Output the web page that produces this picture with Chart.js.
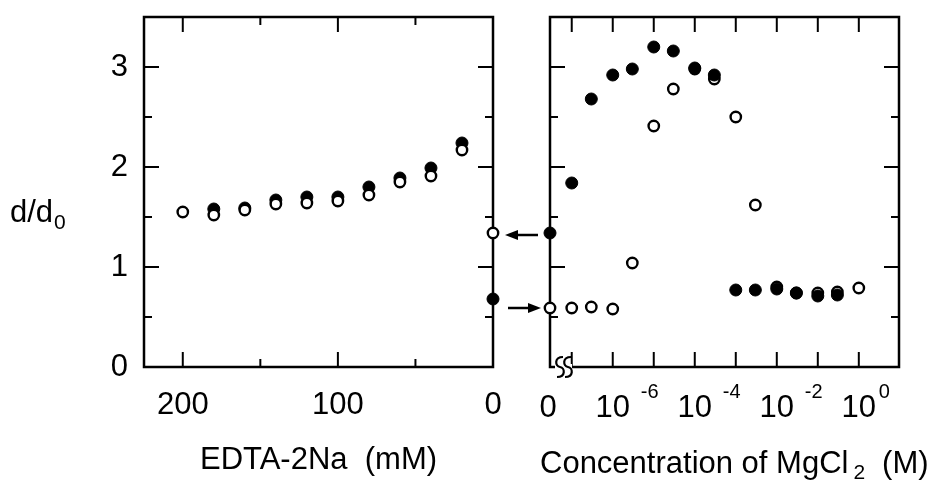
<!DOCTYPE html>
<html>
<head>
<meta charset="utf-8">
<script src="https://cdn.jsdelivr.net/npm/chart.js@4/dist/chart.umd.min.js"></script>
<style>
html, body { margin: 0; background: #fff; }
#wrap { position: relative; width: 933px; height: 492px; }
#wrap canvas { position: absolute; left: 0; top: 0; }
</style>
</head>
<body>
<div id="wrap">
  <canvas id="left" width="933" height="492"></canvas>
  <canvas id="right" width="933" height="492"></canvas>
</div>
<script>
const FONT = '"Liberation Sans", Arial, Helvetica, sans-serif';

// left panel: EDTA-2Na (mM)
const edtaOpenConc = [200, 180, 160, 140, 120, 100, 80, 60, 40, 20, 0];
const edtaOpen = [1.55, 1.52, 1.57, 1.63, 1.64, 1.66, 1.72, 1.85, 1.91, 2.17, 1.34];
const edtaFilledConc = [180, 160, 140, 120, 100, 80, 60, 40, 20, 0];
const edtaFilled = [1.58, 1.59, 1.67, 1.70, 1.70, 1.80, 1.89, 1.99, 2.24, 0.68];

// right panel: MgCl2 (M); zero concentration sits at the axis break
const mgZeroAt = Math.pow(10, -7.53);
const mgConc = [1e-7, 3e-7, 1e-6, 3e-6, 1e-5, 3e-5, 1e-4, 3e-4, 1e-3, 3e-3, 1e-2, 3e-2, 1e-1, 3e-1, 1];
const mgFilled = [1.84, 2.68, 2.92, 2.98, 3.20, 3.16, 2.99, 2.92, 0.77, 0.77, 0.78, 0.74, 0.71, 0.72, null];
const mgOpen = [0.59, 0.60, 0.58, 1.04, 2.41, 2.78, 2.98, 2.88, 2.50, 1.62, 0.80, 0.74, 0.74, 0.75, 0.79];
const mgZeroFilled = 1.34;
const mgZeroOpen = 0.59;
const mgTicks = [1e-7, 1e-6, 1e-5, 1e-4, 1e-3, 1e-2, 1e-1, 1];
const mgLabelExp = [-6, -4, -2, 0];

const yTickLabels = [0, 1, 2, 3];

function pts(xs, ys) {
    return xs.map((x, i) => ({ x: x, y: ys[i] })).filter(p => p.y !== null);
}

const openStyle = { pointRadius: 5.2, borderWidth: 2.4, borderColor: '#000', backgroundColor: '#fff', clip: false, showLine: false };
const filledStyle = { pointRadius: 6, borderWidth: 1, borderColor: '#000', backgroundColor: '#000', clip: false, showLine: false };

function seg(ctx, x1, y1, x2, y2) {
    ctx.beginPath();
    ctx.moveTo(x1, y1);
    ctx.lineTo(x2, y2);
    ctx.stroke();
}

function noPad(s) {
    s.paddingTop = 0;
    s.paddingBottom = 0;
    s.paddingLeft = 0;
    s.paddingRight = 0;
}

// box with inward ticks on all four sides
function framePlugin(isMajorX) {
    return {
        id: 'frame',
        beforeDatasetsDraw(chart) {
            const { ctx, chartArea: a } = chart;
            const xs = chart.scales.x, ys = chart.scales.y;
            ctx.save();
            ctx.strokeStyle = '#000';
            ctx.lineWidth = 2;
            xs.ticks.forEach(t => {
                const px = xs.getPixelForValue(t.value);
                if (px < a.left + 2 || px > a.right - 2) return;
                const len = isMajorX(t.value) ? 15 : 8;
                seg(ctx, px, a.bottom, px, a.bottom - len);
                seg(ctx, px, a.top, px, a.top + len);
            });
            ys.ticks.forEach(t => {
                const py = ys.getPixelForValue(t.value);
                if (py < a.top + 2 || py > a.bottom - 2) return;
                const len = Number.isInteger(t.value) ? 15 : 8;
                seg(ctx, a.left, py, a.left + len, py);
                seg(ctx, a.right, py, a.right - len, py);
            });
            ctx.lineWidth = 2.5;
            ctx.strokeRect(a.left, a.top, a.right - a.left, a.bottom - a.top);
            ctx.restore();
        }
    };
}

const yLabelPlugin = {
    id: 'ylabel',
    afterDraw(chart) {
        const { ctx, chartArea: a } = chart;
        ctx.save();
        ctx.fillStyle = '#000';
        ctx.textAlign = 'left';
        ctx.textBaseline = 'alphabetic';
        ctx.font = '31px ' + FONT;
        const base = a.top + 205;
        ctx.fillText('d/d', 10, base);
        const w = ctx.measureText('d/d').width;
        ctx.font = '21px ' + FONT;
        ctx.fillText('0', 10 + w + 1, base + 7);
        ctx.restore();
    }
};

const leftChart = new Chart(document.getElementById('left'), {
    type: 'scatter',
    data: {
        datasets: [
            Object.assign({ label: 'open', data: pts(edtaOpenConc, edtaOpen) }, openStyle),
            Object.assign({ label: 'filled', data: pts(edtaFilledConc, edtaFilled) }, filledStyle)
        ]
    },
    options: {
        responsive: false,
        animation: false,
        events: [],
        layout: { padding: { left: 0, top: 17, right: 440, bottom: 0 } },
        plugins: { legend: { display: false }, tooltip: { enabled: false } },
        scales: {
            x: {
                type: 'linear', reverse: true, min: 0, max: 225,
                afterFit: s => { s.height = 125; noPad(s); },
                grid: { display: false, drawTicks: false },
                border: { display: false },
                ticks: {
                    stepSize: 50, includeBounds: false, autoSkip: false, maxRotation: 0,
                    color: '#000', font: { size: 31, family: FONT }, padding: 20,
                    callback: v => (v % 100 === 0 ? String(v) : '')
                },
                title: { display: true, text: 'EDTA-2Na  (mM)', color: '#000', font: { size: 31, family: FONT }, padding: { top: 0, bottom: 13 } }
            },
            y: {
                min: 0, max: 3.5,
                afterFit: s => { s.width = 144; noPad(s); },
                grid: { display: false, drawTicks: false },
                border: { display: false },
                ticks: {
                    stepSize: 0.5, autoSkip: false, color: '#000', font: { size: 31, family: FONT }, padding: 16,
                    callback: v => (yTickLabels.includes(v) ? String(v) : '')
                }
            }
        }
    },
    plugins: [framePlugin(v => v % 100 === 0), yLabelPlugin]
});

const rightDecor = {
    id: 'rightDecor',
    afterDraw(chart) {
        const { ctx, chartArea: a } = chart;
        const xs = chart.scales.x, ys = chart.scales.y;
        ctx.save();
        ctx.fillStyle = '#000';
        ctx.strokeStyle = '#000';

        // axis break
        ctx.fillStyle = '#fff';
        ctx.fillRect(a.left + 5, a.bottom - 3, 17, 6);
        ctx.fillStyle = '#000';
        ctx.lineWidth = 2.2;
        [a.left + 10, a.left + 18].forEach(cx => {
            const y = a.bottom;
            ctx.beginPath();
            ctx.moveTo(cx + 3, y - 10);
            ctx.bezierCurveTo(cx - 6, y - 10, cx - 5, y - 1, cx, y);
            ctx.bezierCurveTo(cx + 5, y + 1, cx + 6, y + 10, cx - 3, y + 10);
            ctx.stroke();
        });

        // tick labels
        const base = a.bottom + 50;
        ctx.textBaseline = 'alphabetic';
        ctx.textAlign = 'center';
        ctx.font = '31px ' + FONT;
        ctx.fillText('0', xs.getPixelForValue(mgZeroAt) - 2, base);
        mgLabelExp.forEach(e => {
            const px = xs.getPixelForValue(Math.pow(10, e));
            ctx.textAlign = 'center';
            ctx.font = '31px ' + FONT;
            ctx.fillText('10', px, base);
            ctx.textAlign = 'left';
            ctx.font = '20px ' + FONT;
            ctx.fillText(String(e), px + (e < 0 ? 28 : 20), base - 19);
        });

        // axis title with subscript
        const tBase = a.bottom + 106;
        const p1 = 'Concentration of MgCl', p2 = '2', p3 = '(M)';
        ctx.textAlign = 'left';
        ctx.font = '31px ' + FONT;
        const w1 = ctx.measureText(p1).width;
        const x = a.left - 10;
        ctx.fillText(p1, x, tBase);
        ctx.font = '21px ' + FONT;
        ctx.fillText(p2, x + w1 + 5, tBase + 6);
        const w2 = ctx.measureText(p2).width;
        ctx.font = '31px ' + FONT;
        ctx.fillText(p3, x + w1 + 5 + w2 + 17, tBase);

        // arrows between the two panels
        const lx = leftChart.scales.x.getPixelForValue(0);
        const rx = xs.getPixelForValue(mgZeroAt);
        const arrow = (x1, x2, y) => {
            const dir = Math.sign(x2 - x1);
            ctx.lineWidth = 2.5;
            seg(ctx, x1, y, x2 - dir * 10, y);
            ctx.beginPath();
            ctx.moveTo(x2, y);
            ctx.lineTo(x2 - dir * 13, y - 5);
            ctx.lineTo(x2 - dir * 13, y + 5);
            ctx.closePath();
            ctx.fill();
        };
        arrow(rx - 12, lx + 12, ys.getPixelForValue(mgZeroFilled) + 2);
        arrow(lx + 15, rx - 9, ys.getPixelForValue(mgZeroOpen));
        ctx.restore();
    }
};

const rightChart = new Chart(document.getElementById('right'), {
    type: 'scatter',
    data: {
        datasets: [
            Object.assign({ label: 'filled', data: [{ x: mgZeroAt, y: mgZeroFilled }].concat(pts(mgConc, mgFilled)) }, filledStyle),
            Object.assign({ label: 'open', data: [{ x: mgZeroAt, y: mgZeroOpen }].concat(pts(mgConc, mgOpen)) }, openStyle)
        ]
    },
    options: {
        responsive: false,
        animation: false,
        events: [],
        layout: { padding: { left: 550, top: 17, right: 34, bottom: 0 } },
        plugins: { legend: { display: false }, tooltip: { enabled: false } },
        scales: {
            x: {
                type: 'logarithmic', min: mgZeroAt, max: Math.pow(10, 0.98),
                afterBuildTicks: s => { s.ticks = mgTicks.map(v => ({ value: v })); },
                afterFit: s => { s.height = 125; noPad(s); },
                grid: { display: false, drawTicks: false },
                border: { display: false },
                ticks: { display: false }
            },
            y: {
                min: 0, max: 3.5,
                afterFit: s => { s.width = 0; noPad(s); },
                grid: { display: false, drawTicks: false },
                border: { display: false },
                ticks: { display: false, stepSize: 0.5 }
            }
        }
    },
    plugins: [framePlugin(() => true), rightDecor]
});
</script>
</body>
</html>
